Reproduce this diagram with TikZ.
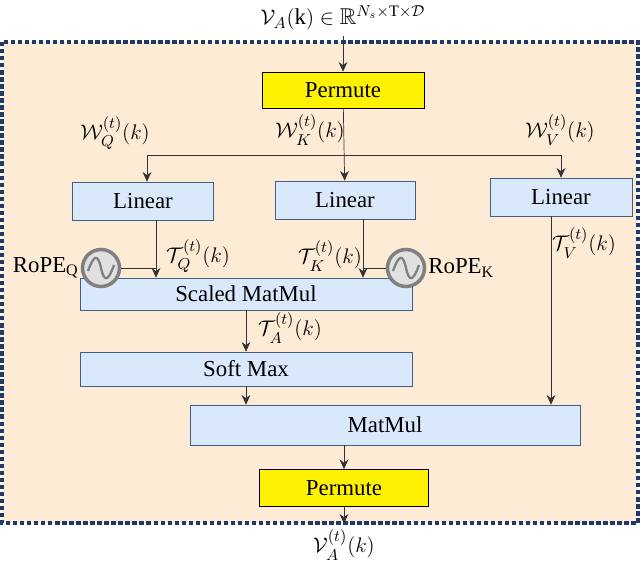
\documentclass[tikz,border=0pt]{standalone}
\usepackage{amssymb}
\usepackage{fontspec}
\setmainfont{Liberation Serif}
\usetikzlibrary{arrows.meta}
\definecolor{boxblue}{HTML}{DAE8FC}
\definecolor{edgeblue}{HTML}{3F5F86}
\definecolor{bgorange}{HTML}{FDEBD6}
\definecolor{frameblue}{HTML}{1F3A68}
\begin{document}
\begin{tikzpicture}[x=0.02cm,y=-0.02cm,font=\fontsize{13}{15}\selectfont,
    blk/.style={draw=edgeblue,fill=boxblue,inner sep=0pt},
    perm/.style={draw=black,fill=yellow,inner sep=0pt},
    arr/.style={draw=black!80,-{Stealth[length=5.5pt,width=5pt]}},
    ln/.style={draw=black!80}]
    \useasboundingbox (0,0) rectangle (640,562);
    \draw[frameblue,fill=bgorange,line width=2pt,dash pattern=on 2.5pt off 1.5pt] (2,42) rectangle (638,523);
    % top part
    \node (in) at (343,18) {$\mathcal{V}_A(\mathrm{k})\in\mathbb{R}^{N_s\times\mathrm{T}\times\mathcal{D}}$};
    \node[perm,minimum width=3.24cm,minimum height=0.72cm] (p1) at (343,90) {Permute};
    \node[blk,minimum width=2.82cm,minimum height=0.76cm] (lq) at (143,201) {Linear};
    \node[blk,minimum width=2.8cm,minimum height=0.76cm] (lk) at (345,200) {Linear};
    \node[blk,minimum width=2.84cm,minimum height=0.76cm] (lv) at (561,197) {Linear};
    \coordinate (jq) at (147,155);
    \coordinate (jk) at (345,155);
    \coordinate (jv) at (561,155);
    \draw[arr] (in) -- (p1);
    \draw[arr] (p1) -- (lk);
    \draw[ln] (jq) -- (jv);
    \draw[arr] (jq) -- (jq |- lq.north);
    \draw[arr] (jv) -- (lv);
    \node at (115,133) {$\mathcal{W}_Q^{(t)}(k)$};
    \node at (310,130) {$\mathcal{W}_K^{(t)}(k)$};
    \node at (560,130) {$\mathcal{W}_V^{(t)}(k)$};
    % attention
    \node[blk,minimum width=6.64cm,minimum height=0.64cm] (sm) at (246,294) {Scaled MatMul};
    \node[blk,minimum width=6.64cm,minimum height=0.68cm] (sx) at (246,369) {Soft Max};
    \node[blk,minimum width=7.8cm,minimum height=0.8cm] (mm) at (385,425) {MatMul};
    \node[perm,minimum width=3.38cm,minimum height=0.74cm] (p2) at (344,488) {Permute};
    \node (out) at (344,545) {$\mathcal{V}_A^{(t)}(k)$};
    \coordinate (aq) at (156,220);
    \coordinate (ak) at (363,219);
    \coordinate (av) at (551,216);
    \coordinate (as) at (246,310);
    \draw[arr] (aq) -- (aq |- sm.north);
    \draw[arr] (ak) -- (ak |- sm.north);
    \draw[arr] (av) -- (av |- mm.north);
    \draw[arr] (as) -- (sx);
    \draw[arr] (sx) -- (sx |- mm.north);
    \draw[arr] (mm.south -| p2) -- (p2);
    \draw[arr] (p2) -- (out);
    % rope
    \foreach \nm/\cx in {rq/101,rk/406}{
      \node[circle,draw=black!50,line width=2pt,fill=black!12,minimum size=0.74cm,inner sep=0pt] (\nm) at (\cx,268) {};
      \draw[black!50,line width=1.3pt] (\cx-13,271) .. controls (\cx-7,254) and (\cx-3,254) .. (\cx,268) .. controls (\cx+3,282) and (\cx+7,282) .. (\cx+13,265);
    }
    \draw[ln] (rq.east) -- (aq |- rq);
    \draw[ln] (rk.west) -- (ak |- rk);
    \node[anchor=east,inner sep=1pt] at (rq.west) {RoPE$_{\mathrm{Q}}$};
    \node[anchor=west,inner sep=1pt] at (rk.east) {RoPE$_{\mathrm{K}}$};
    \node[anchor=west] at (160,256) {$\mathcal{T}_Q^{(t)}(k)$};
    \node[anchor=east] at (368,256) {$\mathcal{T}_K^{(t)}(k)$};
    \node[anchor=west] at (546,243) {$\mathcal{T}_V^{(t)}(k)$};
    \node[anchor=west] at (252,328) {$\mathcal{T}_A^{(t)}(k)$};
\end{tikzpicture}
\end{document}
